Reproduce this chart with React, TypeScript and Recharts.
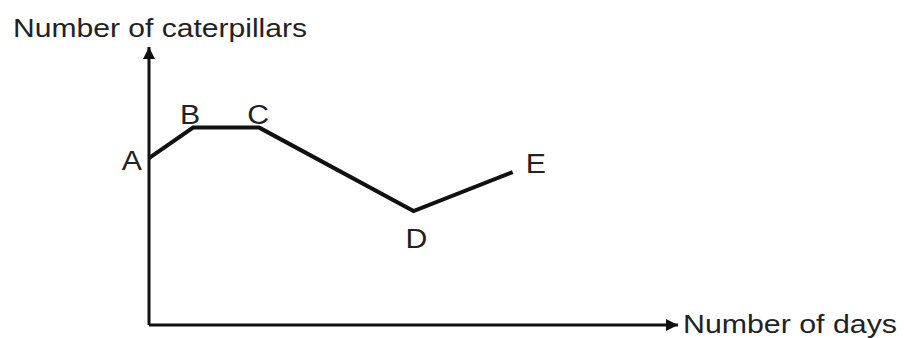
import { LabelList, Line, LineChart, XAxis, YAxis } from "recharts";

// days on x, caterpillar count on y (no units shown)
const pointNames = ["A", "B", "C", "D", "E"];
const days = [0, 2, 5, 12, 16.5];
const caterpillars = [60, 71, 71, 41, 55];

const xTitle = "Number of days";
const yTitle = "Number of caterpillars";

const data = pointNames.map((name, i) => ({ name, day: days[i], count: caterpillars[i] }));

// where each letter sits relative to its point
const labelOffset: Record<string, { dx: number; dy: number; anchor: "start" | "middle" | "end" }> = {
  A: { dx: -7, dy: 12, anchor: "end" },
  B: { dx: -3, dy: -4, anchor: "middle" },
  C: { dx: -1, dy: -4, anchor: "middle" },
  D: { dx: 3, dy: 37, anchor: "middle" },
  E: { dx: 13, dy: 1, anchor: "start" },
};

const FONT = "'Liberation Sans', Arial, sans-serif";

function PointLabel(props: any) {
  const { x, y, value } = props;
  const o = labelOffset[value as string];
  if (!o) return null;
  return (
    <text x={x + o.dx} y={y + o.dy} textAnchor={o.anchor} fontFamily={FONT} fontSize={27} fill="#222"
      transform={`translate(${x + o.dx} 0) scale(1.12 1) translate(${-(x + o.dx)} 0)`}>
      {value}
    </text>
  );
}

export default function App() {
  return (
    <div style={{ position: "absolute", left: 0, top: 0, width: 904, height: 338, background: "#fff" }}>
      <LineChart width={904} height={338} data={data} margin={{ top: 47, right: 226, bottom: 12, left: 148 }}>
        <defs>
          <marker id="arrow" viewBox="0 0 10 10" refX="10" refY="5" markerWidth="12" markerHeight="12"
            markerUnits="userSpaceOnUse" orient="auto-start-reverse">
            <path d="M0,0 L10,5 L0,10 z" fill="#111" />
          </marker>
        </defs>
        <XAxis
          type="number"
          dataKey="day"
          domain={[0, 24]}
          height={1}
          tick={false}
          tickLine={false}
          axisLine={{ stroke: "#111", strokeWidth: 3, markerEnd: "url(#arrow)" }}
        />
        <YAxis
          type="number"
          domain={[0, 100]}
          width={1}
          tick={false}
          tickLine={false}
          axisLine={{ stroke: "#111", strokeWidth: 3, markerStart: "url(#arrow)" }}
        />
        <Line
          type="linear"
          dataKey="count"
          stroke="#111"
          strokeWidth={4}
          strokeLinejoin="miter"
          dot={false}
          activeDot={false}
          isAnimationActive={false}
        >
          <LabelList dataKey="name" content={PointLabel} />
        </Line>
        <text x={13} y={37} fontFamily={FONT} fontSize={26} fill="#222" textLength={294} lengthAdjust="spacingAndGlyphs">
          {yTitle}
        </text>
        <text x={683} y={333} fontFamily={FONT} fontSize={26} fill="#222" textLength={214} lengthAdjust="spacingAndGlyphs">
          {xTitle}
        </text>
      </LineChart>
    </div>
  );
}
